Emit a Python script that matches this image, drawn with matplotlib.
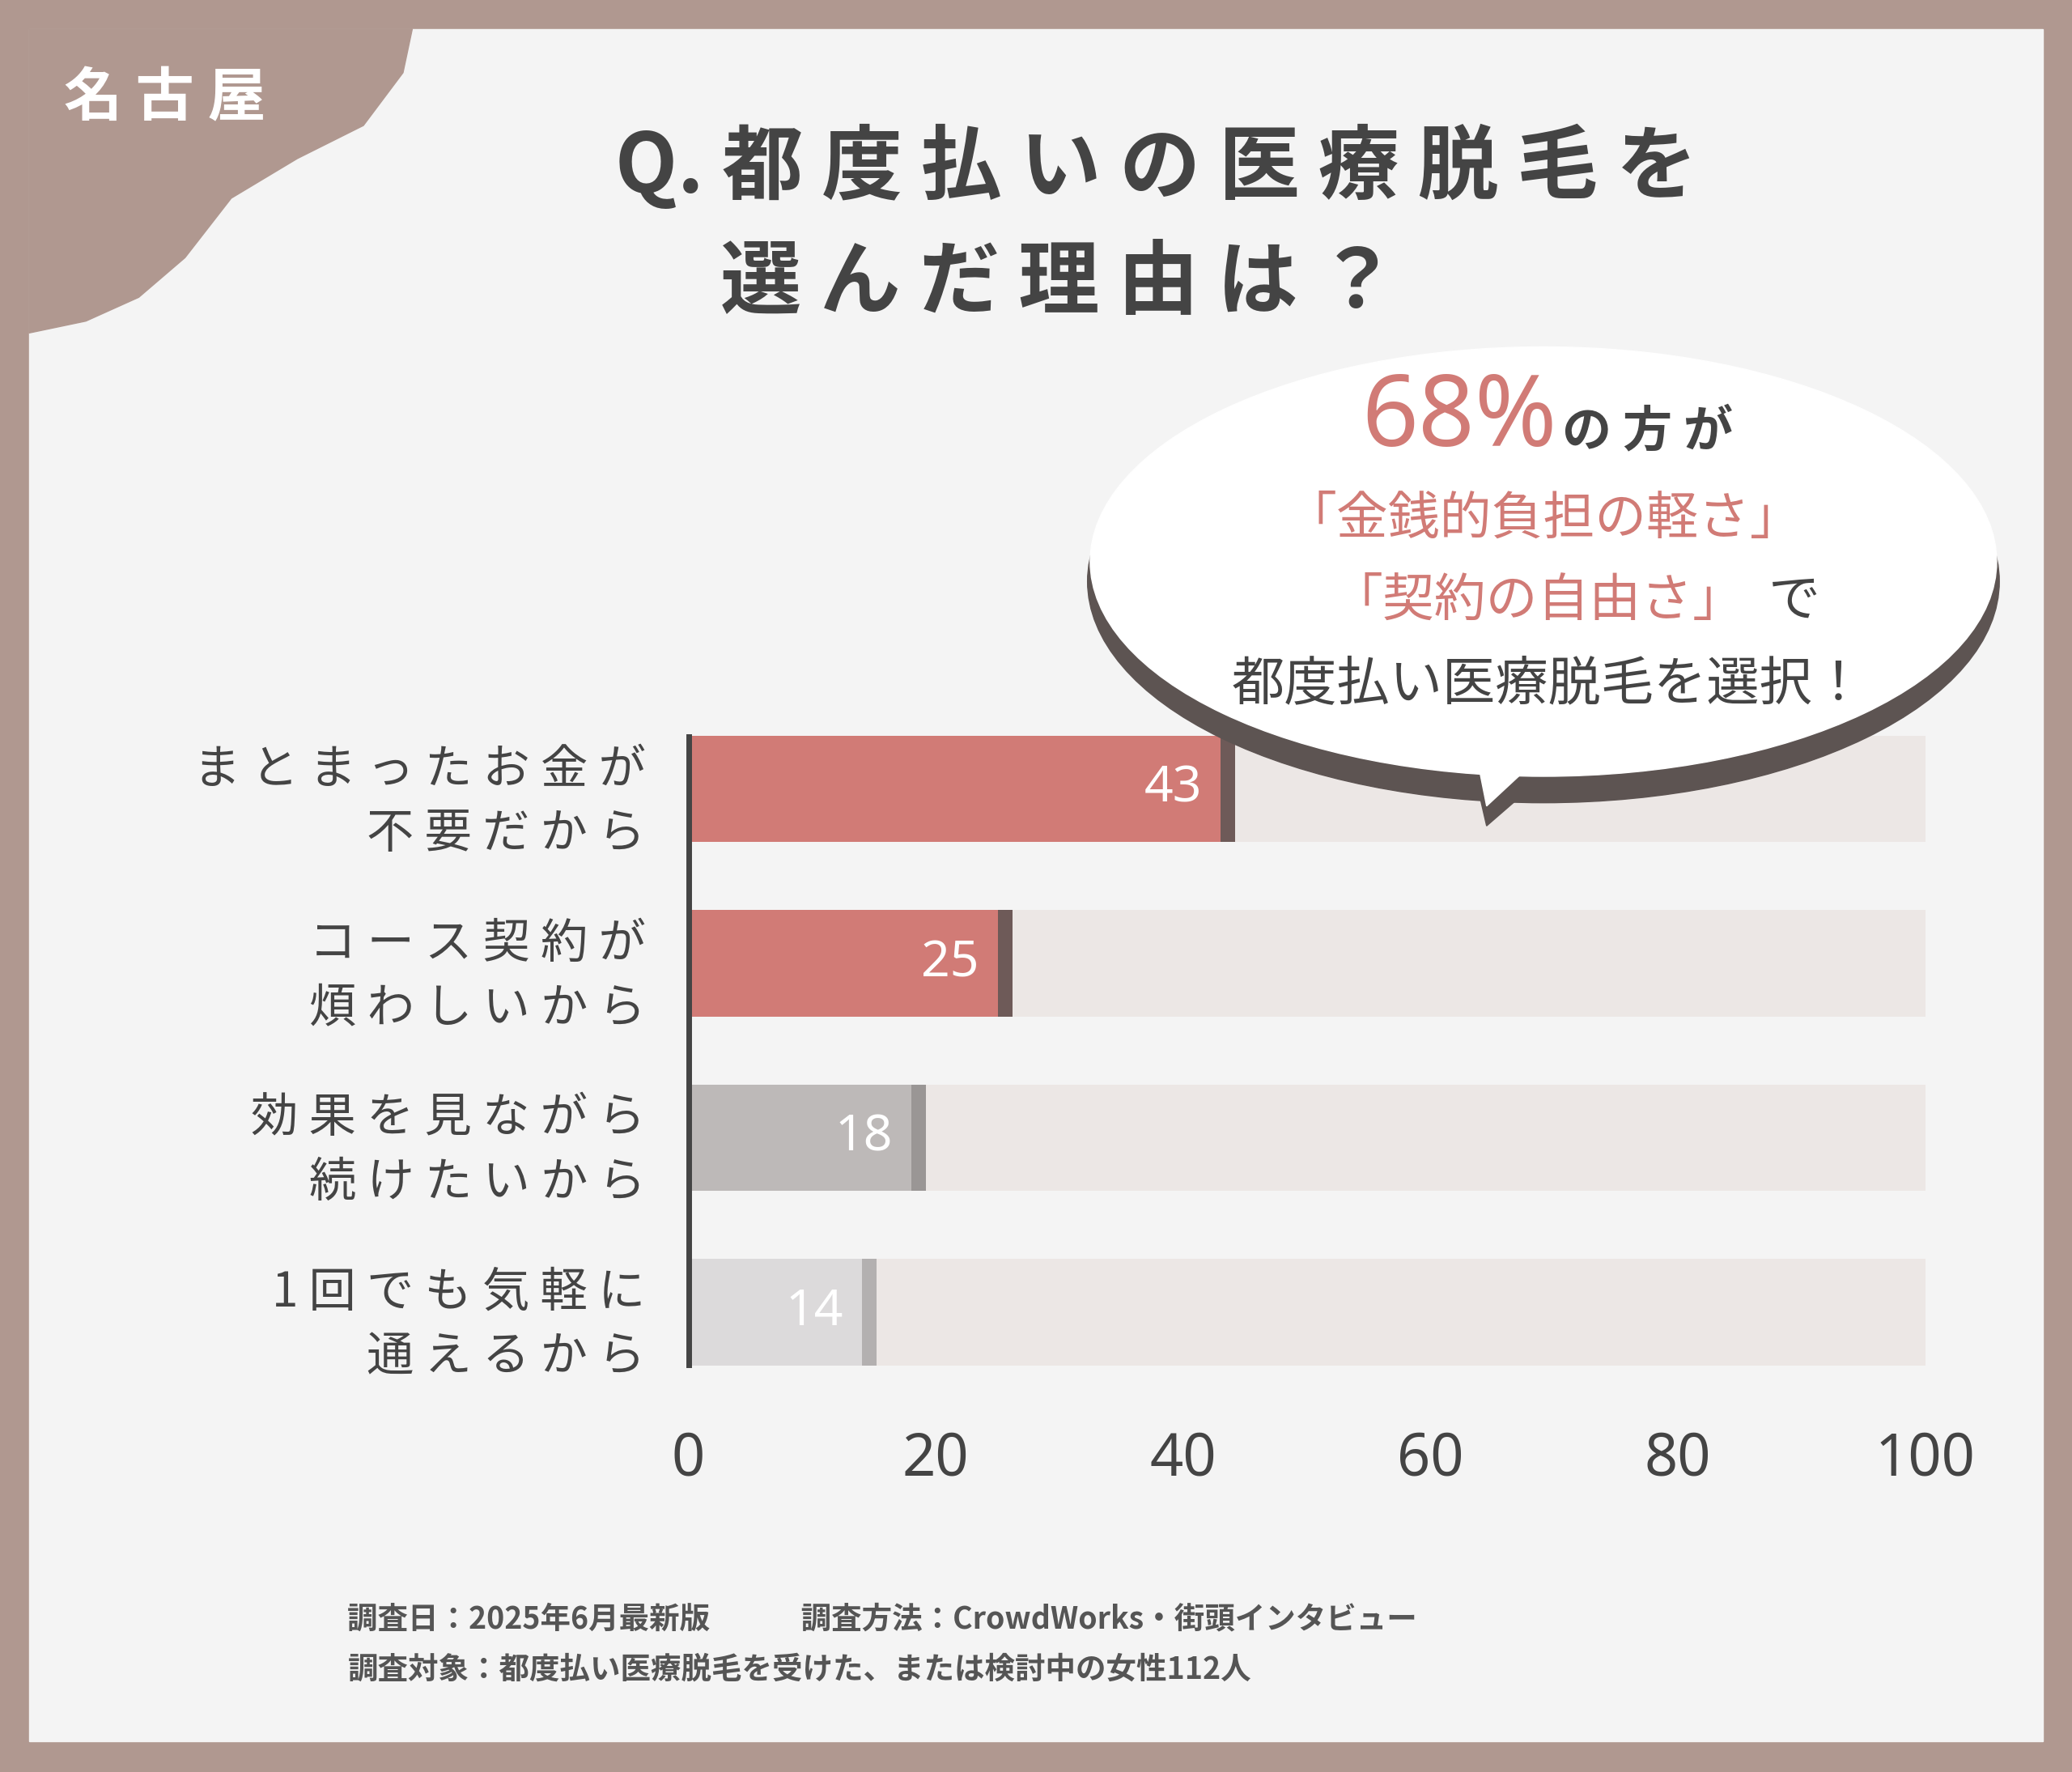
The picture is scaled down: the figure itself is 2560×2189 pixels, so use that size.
import matplotlib
matplotlib.use("Agg")
from matplotlib import pyplot as plt
from matplotlib.patches import Rectangle, Ellipse, Polygon

plt.rcParams['font.family'] = 'Noto Sans CJK JP'

categories = ['まとまったお金が\n不要だから', 'コース契約が\n煩わしいから',
              '効果を見ながら\n続けたいから', '1回でも気軽に\n通えるから']
values = [43, 25, 18, 14]
bar_colors = ['#d17b76', '#d17b76', '#bdb9b8', '#dcdadb']
shadow_colors = ['#6e5a58', '#6e5a58', '#9a9695', '#b3b0b0']
xticks = [0, 20, 40, 60, 80, 100]


def spaced(s):
    # letter spacing like the original
    return '\n'.join(' '.join(line) for line in s.split('\n'))


W, H = 1568.0, 1341.0
def fx(x): return x / W
def fy(y): return 1 - y / H

fig = plt.figure(figsize=(25.6, 21.89), dpi=100)
fig.patch.set_facecolor('#b09890')
fig.add_artist(Rectangle((fx(22), fy(1318)), fx(1524), (1296) / H,
                         transform=fig.transFigure, color='#f4f4f4', zorder=0))
blob = [(22, 22), (312, 22), (305, 55), (275, 95), (225, 120), (175, 150),
        (140, 195), (105, 225), (65, 243), (22, 252)]
fig.add_artist(Polygon([(fx(a), fy(b)) for a, b in blob], closed=True,
                       transform=fig.transFigure, color='#b09890', zorder=1))
fig.text(fx(125), fy(75), spaced('名古屋'), color='white', fontsize=52, fontweight='bold',
         ha='center', va='center')

fig.text(fx(875), fy(127), 'Q. ' + spaced('都度払いの医療脱毛を'), color='#444444',
         fontsize=72, fontweight='bold', ha='center', va='center')
fig.text(fx(545), fy(215), spaced('選んだ理由は？'), color='#444444', fontsize=72,
         fontweight='bold', ha='left', va='center')

ax = fig.add_axes([fx(521), fy(1050), fx(1457) - fx(521), 510 / H])
ax.set_facecolor('none')
ypos = list(range(len(values)))
ax.barh(ypos, [100] * 4, height=0.61, color='#ece7e5', zorder=1)
ax.barh(ypos, [v + 1.2 for v in values], height=0.61, color=shadow_colors, zorder=2)
ax.barh(ypos, values, height=0.61, color=bar_colors, zorder=3)
for y, v in zip(ypos, values):
    ax.text(v - 1.5, y, str(v), color='white', fontsize=45, ha='right', va='center',
            family='Noto Sans', zorder=4)
ax.plot([0, 0], [-0.3, 3.3], color='#444444', lw=5, zorder=5, clip_on=False)
ax.set_xlim(0, 100)
ax.set_ylim(3.432, -0.432)
ax.set_xticks(xticks)
ax.set_xticklabels([str(t) for t in xticks], fontsize=52, color='#444444', family='Noto Sans')
ax.tick_params(axis='x', length=0, pad=38)
ax.set_yticks(ypos)
ax.set_yticklabels([spaced(c) for c in categories], fontsize=42, color='#444444',
                   linespacing=1.4)
ax.tick_params(axis='y', length=0, pad=38)
for s in ax.spines.values():
    s.set_visible(False)

# speech bubble
fig.add_artist(Ellipse((fx(1168), fy(440)), fx(690), 335 / H, transform=fig.transFigure,
                       color='#5d5452', zorder=6))
fig.add_artist(Polygon([(fx(1110), fy(560)), (fx(1200), fy(560)), (fx(1125), fy(625))],
                       transform=fig.transFigure, color='#5d5452', zorder=6))
fig.add_artist(Ellipse((fx(1168), fy(425)), fx(686), 325 / H, transform=fig.transFigure,
                       color='white', zorder=7))
fig.add_artist(Polygon([(fx(1112), fy(545)), (fx(1195), fy(545)), (fx(1125), fy(610))],
                       transform=fig.transFigure, color='white', zorder=7))
coral = '#d17b76'
dark = '#444444'
fig.text(fx(1178), fy(318), '68%', color=coral, fontsize=88, fontweight='bold',
         ha='right', va='center', family='Noto Sans', zorder=8)
fig.text(fx(1182), fy(327), spaced('の方が'), color=dark, fontsize=44, fontweight='bold',
         ha='left', va='center', zorder=8)
fig.text(fx(1168), fy(393), '「金銭的負担の軽さ」', color=coral, fontsize=46,
         ha='center', va='center', zorder=8)
fig.text(fx(1320), fy(455), '「契約の自由さ」', color=coral, fontsize=46,
         ha='right', va='center', zorder=8)
fig.text(fx(1338), fy(455), 'で', color=dark, fontsize=46,
         ha='left', va='center', zorder=8)
fig.text(fx(1172), fy(518), '都度払い医療脱毛を選択！', color=dark, fontsize=47,
         ha='center', va='center', zorder=8)

fig.text(fx(263), fy(1225), '調査日：2025年6月最新版　　　調査方法：CrowdWorks・街頭インタビュー',
         color='#555555', fontsize=27, fontweight='bold', ha='left', va='center')
fig.text(fx(263), fy(1263), '調査対象：都度払い医療脱毛を受けた、または検討中の女性112人',
         color='#555555', fontsize=27, fontweight='bold', ha='left', va='center')

fig.savefig('out.png', dpi=100, facecolor=fig.get_facecolor())
